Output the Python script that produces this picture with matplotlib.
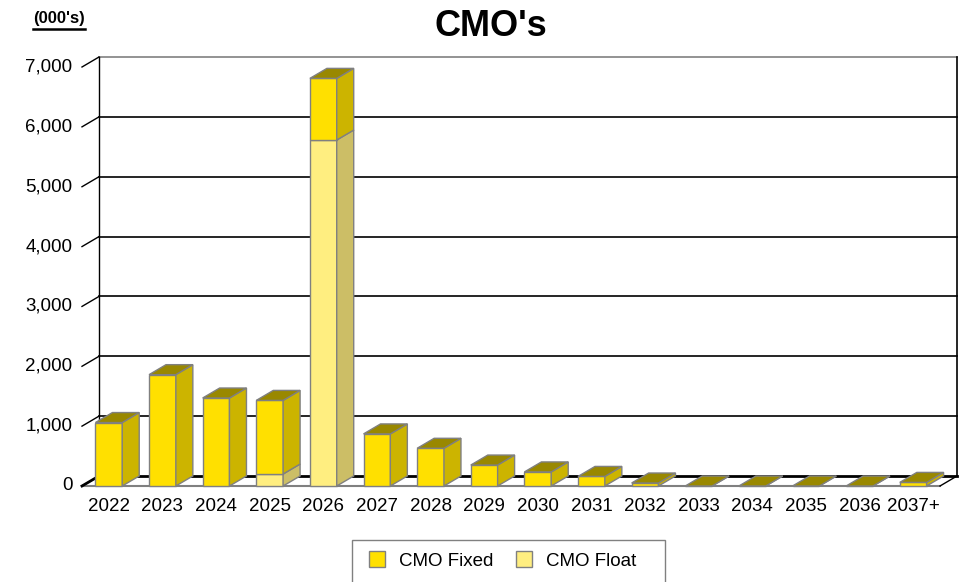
import numpy as np
import matplotlib.pyplot as plt
from matplotlib.patches import Polygon, Rectangle

plt.rcParams['font.family'] = ['Liberation Sans', 'DejaVu Sans']

years = ["2022", "2023", "2024", "2025", "2026", "2027", "2028", "2029",
         "2030", "2031", "2032", "2033", "2034", "2035", "2036", "2037+"]
cmo_float = [0, 0, 0, 200, 5780, 0, 0, 0, 0, 0, 0, 0, 0, 0, 0, 0]
cmo_fixed = [1060, 1860, 1470, 1230, 1030, 870, 630, 350, 235, 160, 50, 0, 0, 0, 0, 60]
y_ticks = [0, 1000, 2000, 3000, 4000, 5000, 6000, 7000]

fixed_cols = ("#FFE000", "#CCB400", "#998800")
float_cols = ("#FFEE80", "#CCBE66", "#998800")
edge = "#808080"

W, H = 966, 582
fig = plt.figure(figsize=(W / 100, H / 100), dpi=100)
# pixel layout: front floor at y=486, x from 82; back wall offset (17, -10)
ax = fig.add_axes([82 / W, (H - 486) / H, (957 - 82) / W, (486 - 57) / H])
ax.axis("off")

n = len(years)
step = (940 - 82) / n          # px per category
ppv = (486 - 67) / 7000        # px per unit value
dx = 17 / step                 # depth in category units
dy = 10 / ppv                  # depth in value units
ax.set_xlim(-0.5, n - 0.5 + dx)
ax.set_ylim(0, 7000 + dy)

# walls and gridlines
for t in y_ticks:
    ax.plot([-0.5 + dx, n - 0.5 + dx], [t + dy, t + dy],
            color="black" if t < 7000 else edge, lw=1.2 if t > 0 else 2, clip_on=False)
    ax.plot([-0.5, -0.5 + dx], [t, t + dy], color="black", lw=1, clip_on=False)
    ax.text(-0.5 - 0.18, t, f"{t:,}", ha="right", va="center", fontsize=13.5)
ax.plot([-0.5 + dx, -0.5 + dx], [dy, 7000 + dy], color="black", lw=1, clip_on=False)
ax.plot([n - 0.5 + dx, n - 0.5 + dx], [dy, 7000 + dy], color="black", lw=1.2, clip_on=False)
ax.plot([-0.5, n - 0.5], [0, 0], color=edge, lw=1.5, clip_on=False)
ax.plot([n - 0.5, n - 0.5 + dx], [0, dy], color="black", lw=1, clip_on=False)
ax.plot([-0.5, -0.5 + dx], [0, dy], color="black", lw=2, clip_on=False)

bw = 0.5


def box(x0, y0, y1, cols, top=True):
    x1 = x0 + bw
    ax.add_patch(Rectangle((x0, y0), bw, y1 - y0, facecolor=cols[0],
                           edgecolor=edge, lw=1, zorder=3, clip_on=False))
    ax.add_patch(Polygon([(x1, y0), (x1 + dx, y0 + dy), (x1 + dx, y1 + dy), (x1, y1)],
                         facecolor=cols[1], edgecolor=edge, lw=1, zorder=3, clip_on=False))
    if top:
        ax.add_patch(Polygon([(x0, y1), (x0 + dx, y1 + dy), (x1 + dx, y1 + dy), (x1, y1)],
                             facecolor=cols[2], edgecolor=edge, lw=1, zorder=3, clip_on=False))


for i in range(n):
    x0 = i - bw / 2
    fl = cmo_float[i]
    fx = cmo_fixed[i]
    if fl > 0:
        box(x0, 0, fl, float_cols, top=(fx == 0))
    box(x0, fl, fl + fx, fixed_cols)
    ax.text(i, -345, years[i], ha="center", va="center", fontsize=13.5)

fig.text(491 / W, 1 - 27 / H, "CMO's", ha="center", va="center",
         fontsize=26, fontweight="bold")
fig.text(33 / W, 1 - 19 / H, "(000's)", ha="left", va="center",
         fontsize=12, fontweight="bold")
fig.add_artist(plt.Line2D([33 / W, 85 / W], [1 - 28.5 / H, 1 - 28.5 / H], color="black", lw=1.8))

# legend
fig.add_artist(Rectangle((352 / W, -0.01), (665 - 352) / W, (582 - 540) / H + 0.01,
                         transform=fig.transFigure, facecolor="white", edgecolor=edge, lw=1))
fig.add_artist(Rectangle((369 / W, 1 - 567 / H), 16 / W, 16 / H, transform=fig.transFigure,
                         facecolor=fixed_cols[0], edgecolor=edge, lw=1))
fig.text(399 / W, 1 - 561 / H, "CMO Fixed", ha="left", va="center", fontsize=13.5)
fig.add_artist(Rectangle((516 / W, 1 - 567 / H), 16 / W, 16 / H, transform=fig.transFigure,
                         facecolor=float_cols[0], edgecolor=edge, lw=1))
fig.text(546 / W, 1 - 561 / H, "CMO Float", ha="left", va="center", fontsize=13.5)

fig.savefig("out.png", dpi=100)
